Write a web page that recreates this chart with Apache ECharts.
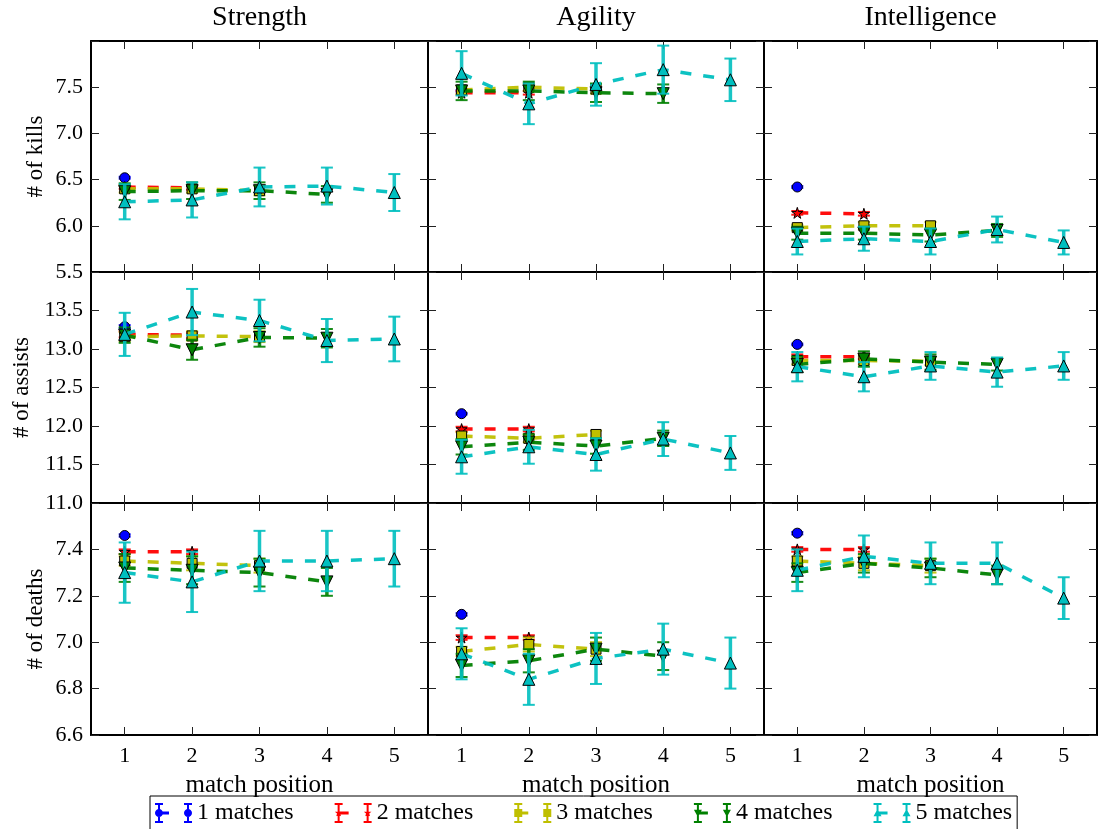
<!DOCTYPE html>
<html><head><meta charset="utf-8">
<script src="https://cdn.jsdelivr.net/npm/echarts@6/dist/echarts.min.js"></script>
<style>html,body{margin:0;padding:0;background:#fff}#c{width:1098px;height:829px}</style>
</head><body><div id="c"></div>
<script>
// ---------- data ----------
const positions = ['1', '2', '3', '4', '5'];
const columnTitles = ['Strength', 'Agility', 'Intelligence'];
const rowLabels = ['# of kills', '# of assists', '# of deaths'];
const seriesNames = ['1 matches', '2 matches', '3 matches', '4 matches', '5 matches'];

// y-axis ranges (tick labels) per row
const yMin = [5.5, 11.0, 6.6];
const yMax = [8.0, 14.0, 7.6];
const yStep = [0.5, 0.5, 0.2];

// means, per series (1..5 matches), per match position
const killsStrength = [[6.52], [6.42, 6.41], [6.40, 6.40, 6.38], [6.37, 6.38, 6.38, 6.34], [6.26, 6.28, 6.42, 6.43, 6.36]];
const killsStrengthErr = [[0.01], [0.02, 0.02], [0.04, 0.04, 0.05], [0.09, 0.09, 0.09, 0.09], [0.19, 0.19, 0.21, 0.20, 0.20]];
const killsAgility = [[7.46], [7.44, 7.44], [7.47, 7.50, 7.48], [7.46, 7.46, 7.44, 7.43], [7.65, 7.32, 7.53, 7.69, 7.58]];
const killsAgilityErr = [[0.01], [0.02, 0.02], [0.04, 0.04, 0.05], [0.10, 0.10, 0.10, 0.10], [0.24, 0.22, 0.23, 0.26, 0.23]];
const killsIntelligence = [[6.42], [6.14, 6.13], [5.98, 6.00, 6.00], [5.92, 5.92, 5.90, 5.95], [5.83, 5.86, 5.83, 5.96, 5.82]];
const killsIntelligenceErr = [[0.01], [0.02, 0.02], [0.03, 0.04, 0.04], [0.07, 0.07, 0.07, 0.07], [0.14, 0.13, 0.14, 0.14, 0.13]];

const assistsStrength = [[13.29], [13.19, 13.18], [13.16, 13.17, 13.16], [13.18, 12.99, 13.15, 13.14], [13.19, 13.48, 13.37, 13.11, 13.13]];
const assistsStrengthErr = [[0.02], [0.04, 0.04], [0.06, 0.06, 0.07], [0.10, 0.13, 0.12, 0.12], [0.28, 0.30, 0.27, 0.28, 0.29]];
const assistsAgility = [[12.16], [11.96, 11.96], [11.87, 11.84, 11.89], [11.73, 11.79, 11.74, 11.84], [11.60, 11.73, 11.63, 11.83, 11.65]];
const assistsAgilityErr = [[0.01], [0.03, 0.03], [0.05, 0.05, 0.05], [0.10, 0.10, 0.10, 0.10], [0.22, 0.22, 0.21, 0.22, 0.22]];
const assistsIntelligence = [[13.06], [12.90, 12.90], [12.85, 12.85, 12.84], [12.80, 12.87, 12.83, 12.80], [12.77, 12.64, 12.78, 12.70, 12.78]];
const assistsIntelligenceErr = [[0.01], [0.03, 0.03], [0.05, 0.05, 0.05], [0.10, 0.10, 0.10, 0.08], [0.19, 0.19, 0.18, 0.19, 0.18]];

const deathsStrength = [[7.46], [7.39, 7.39], [7.35, 7.34, 7.33], [7.32, 7.31, 7.30, 7.26], [7.30, 7.26, 7.35, 7.35, 7.36]];
const deathsStrengthErr = [[0.005], [0.01, 0.01], [0.02, 0.03, 0.03], [0.06, 0.06, 0.06, 0.06], [0.13, 0.13, 0.13, 0.13, 0.12]];
const deathsAgility = [[7.12], [7.02, 7.02], [6.96, 6.99, 6.97], [6.90, 6.92, 6.97, 6.94], [6.95, 6.84, 6.93, 6.97, 6.91]];
const deathsAgilityErr = [[0.005], [0.01, 0.01], [0.02, 0.03, 0.03], [0.05, 0.05, 0.05, 0.06], [0.11, 0.11, 0.11, 0.11, 0.11]];
const deathsIntelligence = [[7.47], [7.40, 7.40], [7.35, 7.34, 7.33], [7.30, 7.34, 7.32, 7.29], [7.31, 7.37, 7.34, 7.34, 7.19]];
const deathsIntelligenceErr = [[0.005], [0.01, 0.01], [0.02, 0.03, 0.03], [0.04, 0.04, 0.04, 0.04], [0.09, 0.09, 0.09, 0.09, 0.09]];

const panelMeans = [
  [killsStrength, killsAgility, killsIntelligence],
  [assistsStrength, assistsAgility, assistsIntelligence],
  [deathsStrength, deathsAgility, deathsIntelligence]
];
const panelErrs = [
  [killsStrengthErr, killsAgilityErr, killsIntelligenceErr],
  [assistsStrengthErr, assistsAgilityErr, assistsIntelligenceErr],
  [deathsStrengthErr, deathsAgilityErr, deathsIntelligenceErr]
];

// ---------- styling / layout ----------
const SERIF = '"Liberation Serif", "Times New Roman", serif';
const colors = ['#0000ff', '#ff0000', '#bfbf00', '#008000', '#00bfbf'];
const starPath = 'path://M0,-1 L0.2245,-0.309 L0.951,-0.309 L0.363,0.118 L0.588,0.809 L0,0.382 L-0.588,0.809 L-0.363,0.118 L-0.951,-0.309 L-0.2245,-0.309 Z';
const symbols = ['circle', starPath, 'rect', 'triangle', 'triangle'];
const symbolSizes = [10, 11, 10, 12, 12];
const symbolRotates = [0, 0, 0, 180, 0];

const colLeft = [91, 428, 764];
const colWidth = [337, 336, 333];
const rowTop = [41, 272, 503];
const rowHeight = [231, 231, 232];
const yNameGap = [44, 58, 44];

// legend icon paths (error bar + marker, two points, first dash)
function poly(pts) { return 'M' + pts.map(p => p[0].toFixed(2) + ' ' + p[1].toFixed(2)).join(' L') + ' Z'; }
function rect(x, y, w, h) { return poly([[x, y], [x + w, y], [x + w, y + h], [x, y + h]]); }
function markerPoly(kind, cx, cy, r) {
  if (kind === 0) { const pts = []; for (let i = 0; i < 16; i++) { const a = i / 16 * Math.PI * 2; pts.push([cx + r * Math.cos(a), cy + r * Math.sin(a)]); } return poly(pts); }
  if (kind === 1) { const pts = []; for (let i = 0; i < 10; i++) { const a = -Math.PI / 2 + i * Math.PI / 5; const rr = i % 2 ? r * 0.42 : r; pts.push([cx + rr * Math.cos(a), cy + rr * Math.sin(a)]); } return poly(pts); }
  if (kind === 2) return rect(cx - r, cy - r, 2 * r, 2 * r);
  if (kind === 3) return poly([[cx - r, cy - r * 0.8], [cx + r, cy - r * 0.8], [cx, cy + r]]);
  return poly([[cx, cy - r], [cx + r, cy + r * 0.8], [cx - r, cy + r * 0.8]]);
}
function legendIcon(kind) {
  const parts = [];
  [4, 33].forEach(cx => {
    parts.push(rect(cx - 1, 1, 2, 18));
    parts.push(rect(cx - 4, 0, 8, 2));
    parts.push(rect(cx - 4, 18, 8, 2));
    parts.push(markerPoly(kind, cx, 10, 4));
  });
  parts.push(rect(5, 8.5, 9, 3));
  return 'path://' + parts.join(' ');
}

function errRender(color) {
  return function (params, api) {
    const x = api.value(0), y = api.value(1), e = api.value(2);
    const top = api.coord([x, y + e]);
    const bot = api.coord([x, y - e]);
    const hw = 6;
    return {
      type: 'group',
      children: [
        { type: 'line', shape: { x1: top[0], y1: top[1], x2: bot[0], y2: bot[1] }, style: { stroke: color, lineWidth: 3.5, opacity: 0.9 } },
        { type: 'line', shape: { x1: top[0] - hw, y1: top[1], x2: top[0] + hw, y2: top[1] }, style: { stroke: color, lineWidth: 2, opacity: 0.9 } },
        { type: 'line', shape: { x1: bot[0] - hw, y1: bot[1], x2: bot[0] + hw, y2: bot[1] }, style: { stroke: color, lineWidth: 2, opacity: 0.9 } }
      ]
    };
  };
}

const grids = [], xAxes = [], yAxes = [], series = [];
const axisLineStyle = { show: true, onZero: false, lineStyle: { color: '#000', width: 2 } };
const tickStyle = { show: true, inside: true, length: 8, lineStyle: { color: '#222', width: 1 } };

for (let r = 0; r < 3; r++) {
  for (let c = 0; c < 3; c++) {
    const g = r * 3 + c;
    grids.push({ left: colLeft[c], top: rowTop[r], width: colWidth[c], height: rowHeight[r], containLabel: false });
    xAxes.push({
      gridIndex: g, type: 'category', data: positions, boundaryGap: true, position: 'bottom',
      axisLine: axisLineStyle, axisTick: Object.assign({ alignWithLabel: true }, tickStyle),
      axisLabel: { show: r === 2, color: '#000', fontFamily: SERIF, fontSize: 22, margin: 10 },
      splitLine: { show: false },
      name: r === 2 ? 'match position' : '', nameLocation: 'middle', nameGap: 38,
      nameTextStyle: { color: '#000', fontFamily: SERIF, fontSize: 25 }
    });
    xAxes.push({
      gridIndex: g, type: 'category', data: positions, boundaryGap: true, position: 'top',
      axisLine: axisLineStyle, axisTick: Object.assign({ alignWithLabel: true }, tickStyle),
      axisLabel: { show: false }, splitLine: { show: false }
    });
    const mn = yMin[r], mx = yMax[r];
    yAxes.push({
      gridIndex: g, type: 'value', min: mn, max: mx, interval: yStep[r], position: 'left',
      axisLine: axisLineStyle, axisTick: tickStyle, splitLine: { show: false },
      axisLabel: {
        show: c === 0, color: '#000', fontFamily: SERIF, fontSize: 22, margin: 8,
        formatter: v => (Math.abs(v - mx) < 1e-9 ? '' : v.toFixed(1))
      },
      name: c === 0 ? rowLabels[r] : '', nameLocation: 'middle', nameGap: yNameGap[r], nameRotate: 90,
      nameTextStyle: { color: '#000', fontFamily: SERIF, fontSize: 23 }
    });
    yAxes.push({
      gridIndex: g, type: 'value', min: mn, max: mx, interval: yStep[r], position: 'right',
      axisLine: axisLineStyle, axisTick: tickStyle, splitLine: { show: false },
      axisLabel: { show: false }
    });
    const means = panelMeans[r][c], errs = panelErrs[r][c];
    for (let k = 0; k < 5; k++) {
      series.push({
        type: 'custom', name: seriesNames[k] + ' err', xAxisIndex: 2 * g, yAxisIndex: 2 * g,
        renderItem: errRender(colors[k]), encode: { x: 0, y: 1 }, silent: true, clip: false,
        data: means[k].map((v, i) => [i, v, errs[k][i]]), z: 2 + k * 2
      });
      series.push({
        type: 'line', name: seriesNames[k], xAxisIndex: 2 * g, yAxisIndex: 2 * g,
        data: means[k].map((v, i) => [i, v]),
        symbol: symbols[k], symbolSize: symbolSizes[k], symbolRotate: symbolRotates[k], showSymbol: true,
        itemStyle: { color: colors[k], borderColor: '#000', borderWidth: 1 },
        lineStyle: { color: colors[k], width: 3.5, type: [11, 12], opacity: 0.95 },
        silent: true, z: 3 + k * 2
      });
    }
  }
}

const chart = echarts.init(document.getElementById('c'), null, { renderer: 'canvas' });
chart.setOption({
  animation: false,
  backgroundColor: '#fff',
  title: columnTitles.map((t, c) => ({
    text: t, left: colLeft[c] + colWidth[c] / 2, top: 4, textAlign: 'center', padding: 0,
    textStyle: { color: '#000', fontFamily: SERIF, fontSize: 28, fontWeight: 'normal' }
  })),
  legend: {
    left: 150, top: 796,
    data: seriesNames.map((n, k) => ({ name: n, icon: legendIcon(k) })),
    itemWidth: 37, itemHeight: 20, itemGap: 41,
    padding: [5, 5, 20, 5],
    borderColor: '#000', borderWidth: 1,
    itemStyle: { borderWidth: 0 }, lineStyle: { width: 0 },
    textStyle: { color: '#000', fontFamily: SERIF, fontSize: 24 },
    selectedMode: false
  },
  grid: grids, xAxis: xAxes, yAxis: yAxes, series: series
});
</script>
</body></html>
